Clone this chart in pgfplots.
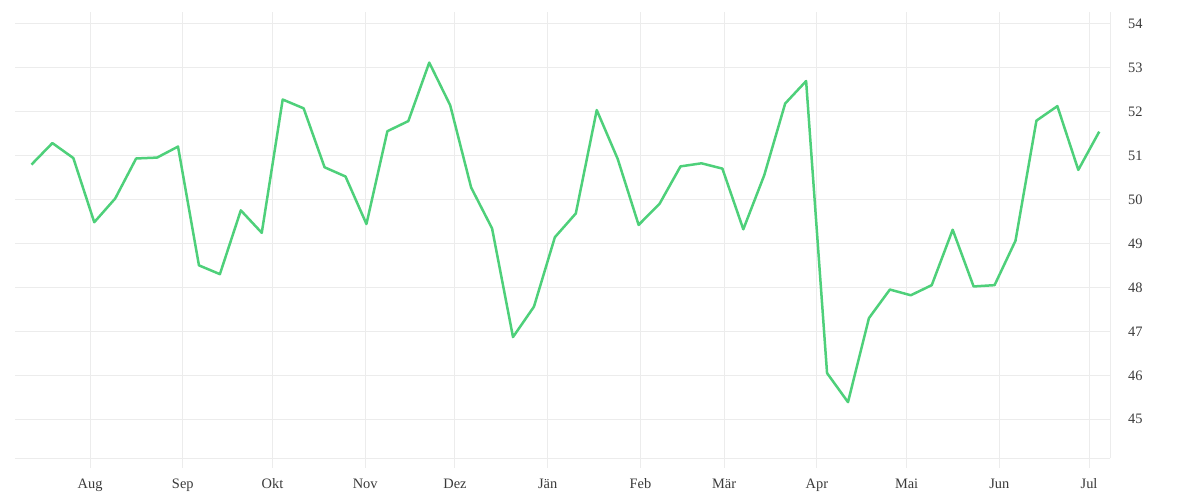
\documentclass[border=0pt]{standalone}
\usepackage{fontspec}
\setmainfont{Liberation Serif}
\usepackage{pgfplots}
\pgfplotsset{compat=1.18}
\definecolor{linegreen}{HTML}{4ED07A}
\definecolor{gridgray}{HTML}{ECECEC}
\definecolor{textgray}{HTML}{3A3A3A}
\begin{document}
\begin{tikzpicture}
\path[use as bounding box] (0,0) rectangle (600pt,250pt);
\begin{axis}[
  at={(7.5pt,21pt)}, anchor=south west,
  scale only axis, width=547.5pt, height=223pt,
  xmin=-25.1, xmax=341, ymin=44.12, ymax=54.26,
  axis x line=bottom, axis y line=right,
  axis line style={draw=gridgray, line width=0.5pt, -},
  xtick={0,31,61,92,122,153,184,212,243,273,304,334},
  xticklabels={Aug,Sep,Okt,Nov,Dez,Jän,Feb,Mär,Apr,Mai,Jun,Jul},
  ytick={45,46,47,48,49,50,51,52,53,54},
  tick align=outside, major tick length=5pt,
  x tick style={draw=gridgray, line width=0.5pt},
  y tick style={draw=none},
  xmajorgrids, ymajorgrids,
  grid style={draw=gridgray, line width=0.5pt},
  tick label style={font=\fontsize{7.2}{8}\selectfont, text=textgray},
  xticklabel style={yshift=0pt, text height=1.45ex, text depth=0.3ex},
  yticklabel style={xshift=0.5pt},
  /pgf/number format/assume math mode=true,
  clip=false,
]
\addplot[linegreen, line width=1.25pt, line join=round] coordinates {
(-19.6,50.79) (-12.6,51.28) (-5.6,50.94) (1.4,49.48) (8.4,50.02) (15.4,50.93)
(22.4,50.95) (29.4,51.20) (36.4,48.50) (43.4,48.30) (50.4,49.75) (57.4,49.24)
(64.4,52.27) (71.4,52.07) (78.4,50.73) (85.4,50.52) (92.4,49.44) (99.4,51.55)
(106.4,51.78) (113.4,53.11) (120.4,52.14) (127.4,50.27) (134.4,49.34) (141.4,46.87)
(148.4,47.56) (155.4,49.14) (162.4,49.68) (169.4,52.03) (176.4,50.92) (183.4,49.42)
(190.4,49.90) (197.4,50.75) (204.4,50.82) (211.4,50.70) (218.4,49.32) (225.4,50.55)
(232.4,52.18) (239.4,52.69) (246.4,46.05) (253.4,45.39) (260.4,47.30) (267.4,47.95)
(274.4,47.82) (281.4,48.05) (288.4,49.31) (295.4,48.02) (302.4,48.05) (309.4,49.06)
(316.4,51.79) (323.4,52.12) (330.4,50.67) (337.4,51.54)
};
\end{axis}
\end{tikzpicture}
\end{document}
